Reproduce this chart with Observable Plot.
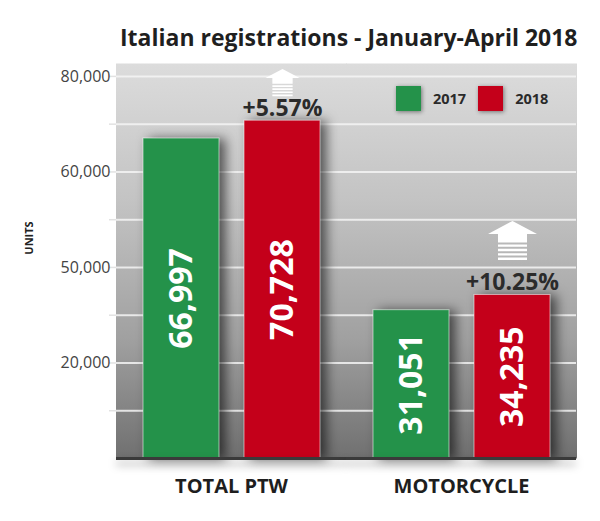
<!DOCTYPE html>
<html>
<head>
<meta charset="utf-8">
<script src="https://cdn.jsdelivr.net/npm/d3@7"></script>
<script src="https://cdn.jsdelivr.net/npm/@observablehq/plot@0.6"></script>
<style>
  html, body { margin: 0; padding: 0; background: #fff; }
  #wrap { position: relative; width: 600px; height: 521px; overflow: hidden; font-family: "Open Sans", sans-serif; }
  #title { position: relative; height: 56px; }
  #title span { position: absolute; left: 120px; top: 26px; line-height: 1; font-size: 23px; font-weight: 700; color: #1f1f1f; white-space: nowrap; }
  #units { position: absolute; left: 28px; top: 238px; transform: translate(-50%, -50%) rotate(-90deg); font-size: 11px; font-weight: 700; color: #222; white-space: nowrap; }
  #legend { position: absolute; left: 396px; top: 86px; }
  #chart svg g[aria-label="bar"] rect { filter: drop-shadow(6px 1px 6px rgba(0,0,0,0.6)); }
  #chart svg g[aria-label="rule"] line { filter: drop-shadow(0px 5px 4px rgba(0,0,0,0.35)); }
  .lg-swatches, .lg-swatches-wrap { font-family: "Open Sans", sans-serif !important; font-size: 14.5px !important; font-weight: 700 !important; color: #2a2a2a !important; min-height: 0 !important; margin: 0 !important; }
  .lg-swatch { margin-right: 12px !important; }
  .lg-swatch > svg { margin-right: 12px !important; filter: drop-shadow(1px 1px 2px rgba(0,0,0,0.45)); }
</style>
</head>
<body>
<div id="wrap">
  <div id="title"><span>Italian registrations - January-April 2018</span></div>
  <div id="chart"></div>
  <div id="units">UNITS</div>
  <div id="legend"></div>
</div>
<script>
const categories = ["TOTAL PTW", "MOTORCYCLE"];
const years = ["2017", "2018"];
const units2017 = [66997, 31051];
const units2018 = [70728, 34235];
const growth2018 = ["+5.57%", "+10.25%"];
const yTickValues = [20000, 40000, 60000, 80000];
const yTickLabels = ["20,000", "50,000", "60,000", "80,000"];
const gridValues = [10000, 20000, 30000, 40000, 50000, 60000, 70000, 80000];
const yearColors = ["#24924a", "#c4001a"];

const rows = categories.flatMap((c, i) => [
  {category: c, year: years[0], value: units2017[i]},
  {category: c, year: years[1], value: units2018[i], growth: growth2018[i]}
]);
const growthRows = rows.filter(d => d.growth);

// white striped arrow symbol, drawn above its anchor point
const arrowSymbol = {
  draw(context, size) {
    const u = Math.sqrt(size / Math.PI) / 10;
    const hw = 24.5 * u, sw = 14.5 * u;
    const tip = -74 * u, base = -61 * u;
    context.moveTo(0, tip);
    context.lineTo(hw, base);
    context.lineTo(-hw, base);
    context.closePath();
    const box = (y0, h) => {
      context.moveTo(-sw, y0);
      context.lineTo(sw, y0);
      context.lineTo(sw, y0 + h);
      context.lineTo(-sw, y0 + h);
      context.closePath();
    };
    box(base, 6 * u);
    for (let i = 0; i < 5; ++i) box((-55 + i * 4.4) * u, 2.4 * u);
  }
};

const fmt = d3.format(",");

const chart = Plot.plot({
  width: 600,
  height: 465,
  marginTop: 7,
  marginBottom: 63,
  marginLeft: 116,
  marginRight: 24,
  style: {fontFamily: "Open Sans, sans-serif", background: "transparent"},
  fx: {domain: categories, padding: 0},
  x: {domain: years, axis: null, paddingInner: 0.25, paddingOuter: 0.26},
  y: {domain: [0, 82700], label: null},
  color: {domain: years, range: yearColors},
  marks: [
    Plot.frame({fill: "url(#bggrad)", stroke: "none", insetLeft: -0.5, insetRight: -0.5}),
    Plot.gridY(gridValues, {stroke: "#f4f4f4", strokeOpacity: 0.85, strokeWidth: 2}),
    Plot.axisY({ticks: gridValues, tickSize: 7, tickFormat: () => "", stroke: "#e2e2e2", strokeWidth: 1.5}),
    Plot.axisY({ticks: yTickValues, tickSize: 0, tickPadding: 6, fontSize: 16, color: "#444",
      tickFormat: d => yTickLabels[yTickValues.indexOf(d)], label: null}),
    Plot.axisFx({anchor: "bottom", tickSize: 0, tickPadding: 20, fontSize: 20, fontWeight: "bold", color: "#1e1e1e", label: null}),
    Plot.barY(rows, {fx: "category", x: "year", y: "value", fill: "year", stroke: "rgba(255,255,255,0.55)", strokeWidth: 1}),
    Plot.ruleY([0], {stroke: "#3a3a3a", strokeWidth: 3}),
    Plot.text(rows, {fx: "category", x: "year", y: d => d.value / 2, text: d => fmt(d.value), rotate: -90,
      fill: "white", fontSize: 32, fontWeight: "bold"}),
    Plot.text(growthRows, {fx: "category", x: "year", y: "value", text: "growth", lineAnchor: "bottom", dy: -5,
      fill: "#2b2b2b", fontSize: 23, fontWeight: "bold"}),
    Plot.dot(growthRows.filter(d => d.category === categories[0]), {fx: "category", x: "year", y: "value",
      symbol: arrowSymbol, r: 7, fill: "white"}),
    Plot.dot(growthRows.filter(d => d.category === categories[1]), {fx: "category", x: "year", y: "value",
      symbol: arrowSymbol, r: 10, fill: "white"})
  ]
});

// gradient definition for the plot background
const defs = d3.select(chart).insert("defs", ":first-child");
const grad = defs.append("linearGradient").attr("id", "bggrad").attr("x1", 0).attr("y1", 0).attr("x2", 0).attr("y2", 1);
[[0, "#dcdcdc"], [0.35, "#c3c3c3"], [0.7, "#a0a0a0"], [1, "#707070"]].forEach(([o, c]) =>
  grad.append("stop").attr("offset", o).attr("stop-color", c));

document.getElementById("chart").appendChild(chart);

const legend = Plot.legend({
  color: {domain: years, range: yearColors},
  legend: "swatches",
  swatchSize: 25,
  className: "lg"
});
document.getElementById("legend").appendChild(legend);
</script>
</body>
</html>
